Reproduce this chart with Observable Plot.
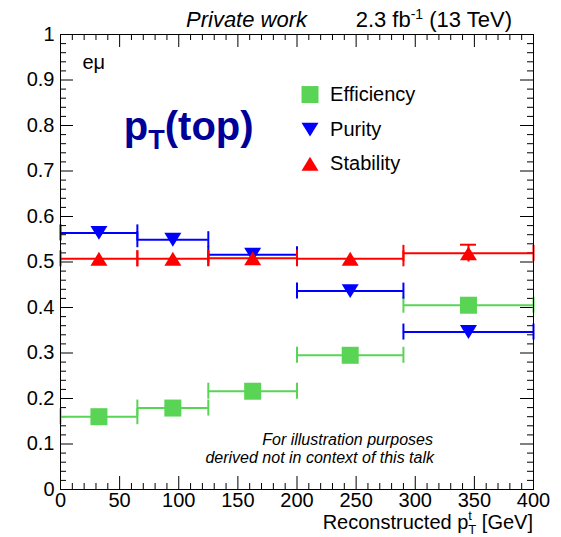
<!DOCTYPE html>
<html>
<head>
<meta charset="utf-8">
<script src="https://cdn.jsdelivr.net/npm/d3@7"></script>
<script src="https://cdn.jsdelivr.net/npm/@observablehq/plot@0.6"></script>
<style>
  html, body { margin: 0; padding: 0; background: #fff; }
  #chart svg { display: block; }
</style>
</head>
<body>
<div id="chart"></div>
<script>
// Binning of reconstructed top pT (GeV)
const binEdges = [0, 65, 125, 200, 290, 400];

// Values per bin
const efficiency = [0.160, 0.179, 0.216, 0.295, 0.405];
const purity     = [0.564, 0.549, 0.516, 0.436, 0.346];
const stability  = [0.507, 0.507, 0.508, 0.507, 0.519];
const stabilityErr = [0.004, 0.004, 0.004, 0.005, 0.019];

const seriesNames  = ["Efficiency", "Purity", "Stability"];
const seriesColors = ["#59d454", "#0000ff", "#ff0000"];

// Axis tick labels
const xTickValues = [0, 50, 100, 150, 200, 250, 300, 350, 400];
const yTickValues = [0, 0.1, 0.2, 0.3, 0.4, 0.5, 0.6, 0.7, 0.8, 0.9, 1];

const FONT = "'Liberation Sans', Arial, Helvetica, sans-serif";
const W = 561, H = 537;
const M = {top: 34, right: 28, bottom: 48, left: 60};
const plotW = W - M.left - M.right, plotH = H - M.top - M.bottom;
const pxX = 400 / plotW, pxY = 1 / plotH;   // one pixel in data units

// Marker shapes (centred on the point)
const squareSym = {draw(ctx, size) { const r = Math.sqrt(size / Math.PI); ctx.rect(-r, -r, 2 * r, 2 * r); }};
const triUpSym = {draw(ctx, size) { const r = Math.sqrt(size / Math.PI), h = r * 0.82; ctx.moveTo(0, -h); ctx.lineTo(r, h); ctx.lineTo(-r, h); ctx.closePath(); }};
const triDownSym = {draw(ctx, size) { const r = Math.sqrt(size / Math.PI), h = r * 0.82; ctx.moveTo(0, h); ctx.lineTo(r, -h); ctx.lineTo(-r, -h); ctx.closePath(); }};
const seriesSymbols = [squareSym, triDownSym, triUpSym];

function binRows(values, errs) {
  return values.map((v, i) => ({
    x1: binEdges[i], x2: binEdges[i + 1], xc: (binEdges[i] + binEdges[i + 1]) / 2,
    y: v, err: errs ? errs[i] : 0
  }));
}
const seriesRows = [binRows(efficiency), binRows(purity), binRows(stability, stabilityErr)];

const capH = 8 * pxY, capW = 8 * pxX;

function seriesMarks(rows, color, symbol) {
  const caps = rows.flatMap(d => [{x: d.x1, y: d.y}, {x: d.x2, y: d.y}]);
  const vErr = rows.filter(d => d.err > 0.01);
  return [
    Plot.ruleY(rows, {y: "y", x1: "x1", x2: "x2", stroke: color, strokeWidth: 2}),
    Plot.ruleX(caps, {x: "x", y1: d => d.y - capH, y2: d => d.y + capH, stroke: color, strokeWidth: 2}),
    Plot.ruleX(vErr, {x: "xc", y1: d => d.y - d.err, y2: d => d.y + d.err, stroke: color, strokeWidth: 2}),
    Plot.ruleY(vErr, {y: d => d.y + d.err, x1: d => d.xc - capW, x2: d => d.xc + capW, stroke: color, strokeWidth: 2}),
    Plot.dot(rows, {x: "xc", y: "y", r: 8.5, symbol, fill: color, stroke: "none"})
  ];
}

// Inward tick marks on all four sides
const xMajor = d3.range(0, 401, 50), xMinor = d3.range(0, 401, 10).filter(d => d % 50);
const yMajor = d3.range(0, 11).map(i => i / 10), yMinor = d3.range(0, 51).filter(i => i % 5).map(i => i / 50);
const majLen = 13, minLen = 6;
const tickMarks = [
  Plot.ruleX(xMajor, {x: d => d, y1: () => 0, y2: () => majLen * pxY, stroke: "black"}),
  Plot.ruleX(xMinor, {x: d => d, y1: () => 0, y2: () => minLen * pxY, stroke: "black"}),
  Plot.ruleX(xMajor, {x: d => d, y1: () => 1, y2: () => 1 - majLen * pxY, stroke: "black"}),
  Plot.ruleX(xMinor, {x: d => d, y1: () => 1, y2: () => 1 - minLen * pxY, stroke: "black"}),
  Plot.ruleY(yMajor, {y: d => d, x1: () => 0, x2: () => majLen * pxX, stroke: "black"}),
  Plot.ruleY(yMinor, {y: d => d, x1: () => 0, x2: () => minLen * pxX, stroke: "black"}),
  Plot.ruleY(yMajor, {y: d => d, x1: () => 400, x2: () => 400 - majLen * pxX, stroke: "black"}),
  Plot.ruleY(yMinor, {y: d => d, x1: () => 400, x2: () => 400 - minLen * pxX, stroke: "black"})
];

// Legend placement (data coordinates inside the frame)
const legendX = 211, legendTextX = 228;
const legendY = [0.868, 0.791, 0.716];
const legendRows = seriesNames.map((name, i) => ({name, x: legendX, tx: legendTextX, y: legendY[i], color: seriesColors[i], symbol: seriesSymbols[i]}));

const chart = Plot.plot({
  width: W, height: H,
  marginTop: M.top, marginRight: M.right, marginBottom: M.bottom, marginLeft: M.left,
  style: {fontFamily: FONT, background: "white", color: "black"},
  x: {domain: [0, 400], axis: null},
  y: {domain: [0, 1], axis: null},
  marks: [
    Plot.axisX({ticks: xTickValues, tickSize: 0, tickPadding: 3, fontSize: 20, label: null, tickFormat: d => String(d)}),
    Plot.axisY({ticks: yTickValues, tickSize: 0, tickPadding: 6, fontSize: 20, label: null, tickFormat: d => String(+d.toFixed(1))}),
    ...tickMarks,
    ...seriesRows.flatMap((rows, i) => seriesMarks(rows, seriesColors[i], seriesSymbols[i])),
    ...legendRows.map(d => Plot.dot([d], {x: "x", y: "y", r: 8.5, symbol: d.symbol, fill: d.color})),
    Plot.text(legendRows, {x: "tx", y: "y", text: "name", textAnchor: "start", fontSize: 20, fill: "black"}),
    Plot.frame({stroke: "black", strokeWidth: 1})
  ]
});

document.getElementById("chart").appendChild(chart);

// Rich-text annotations (sub/superscripts) positioned through the chart's scales
const sx = chart.scale("x"), sy = chart.scale("y");
const svg = d3.select(chart);
function richText(x, y, opts, parts) {
  const t = svg.append("text").attr("x", x).attr("y", y)
    .attr("font-family", FONT).attr("font-size", opts.size)
    .attr("fill", opts.fill || "black")
    .attr("text-anchor", opts.anchor || "start");
  if (opts.italic) t.attr("font-style", "italic");
  if (opts.bold) t.attr("font-weight", "bold");
  for (const p of parts) {
    const s = t.append("tspan").text(p.t);
    if (p.size) s.attr("font-size", p.size);
    if (p.dy) s.attr("dy", p.dy);
    if (p.dx) s.attr("dx", p.dx);
  }
  return t;
}

const frameTop = sy.apply(1);
richText(186, frameTop - 7, {size: 22, italic: true}, [{t: "Private work"}]);
richText(512, frameTop - 7, {size: 22, anchor: "end"}, [{t: "2.3 fb"}, {t: "-1", size: 14, dy: -8}, {t: " (13 TeV)", size: 22, dy: 8}]);

richText(sx.apply(400), sy.apply(0) + 40, {size: 20, anchor: "end"}, [
  {t: "Reconstructed p"}, {t: "t", size: 13, dy: -9}, {t: "T", size: 13, dx: -3.6, dy: 14}, {t: " [GeV]", size: 20, dy: -5}
]);

richText(sx.apply(19), sy.apply(0.922), {size: 20}, [{t: "eμ"}]);

richText(sx.apply(54), sy.apply(0.768), {size: 40, bold: true, fill: "#000099"}, [
  {t: "p"}, {t: "T", size: 27, dy: 9}, {t: "(top)", size: 40, dy: -9}
]);

richText(sx.apply(171), sy.apply(0.096), {size: 16, italic: true}, [{t: "For illustration purposes"}]);
richText(sx.apply(123), sy.apply(0.057), {size: 16, italic: true}, [{t: "derived not in context of this talk"}]);
</script>
</body>
</html>
